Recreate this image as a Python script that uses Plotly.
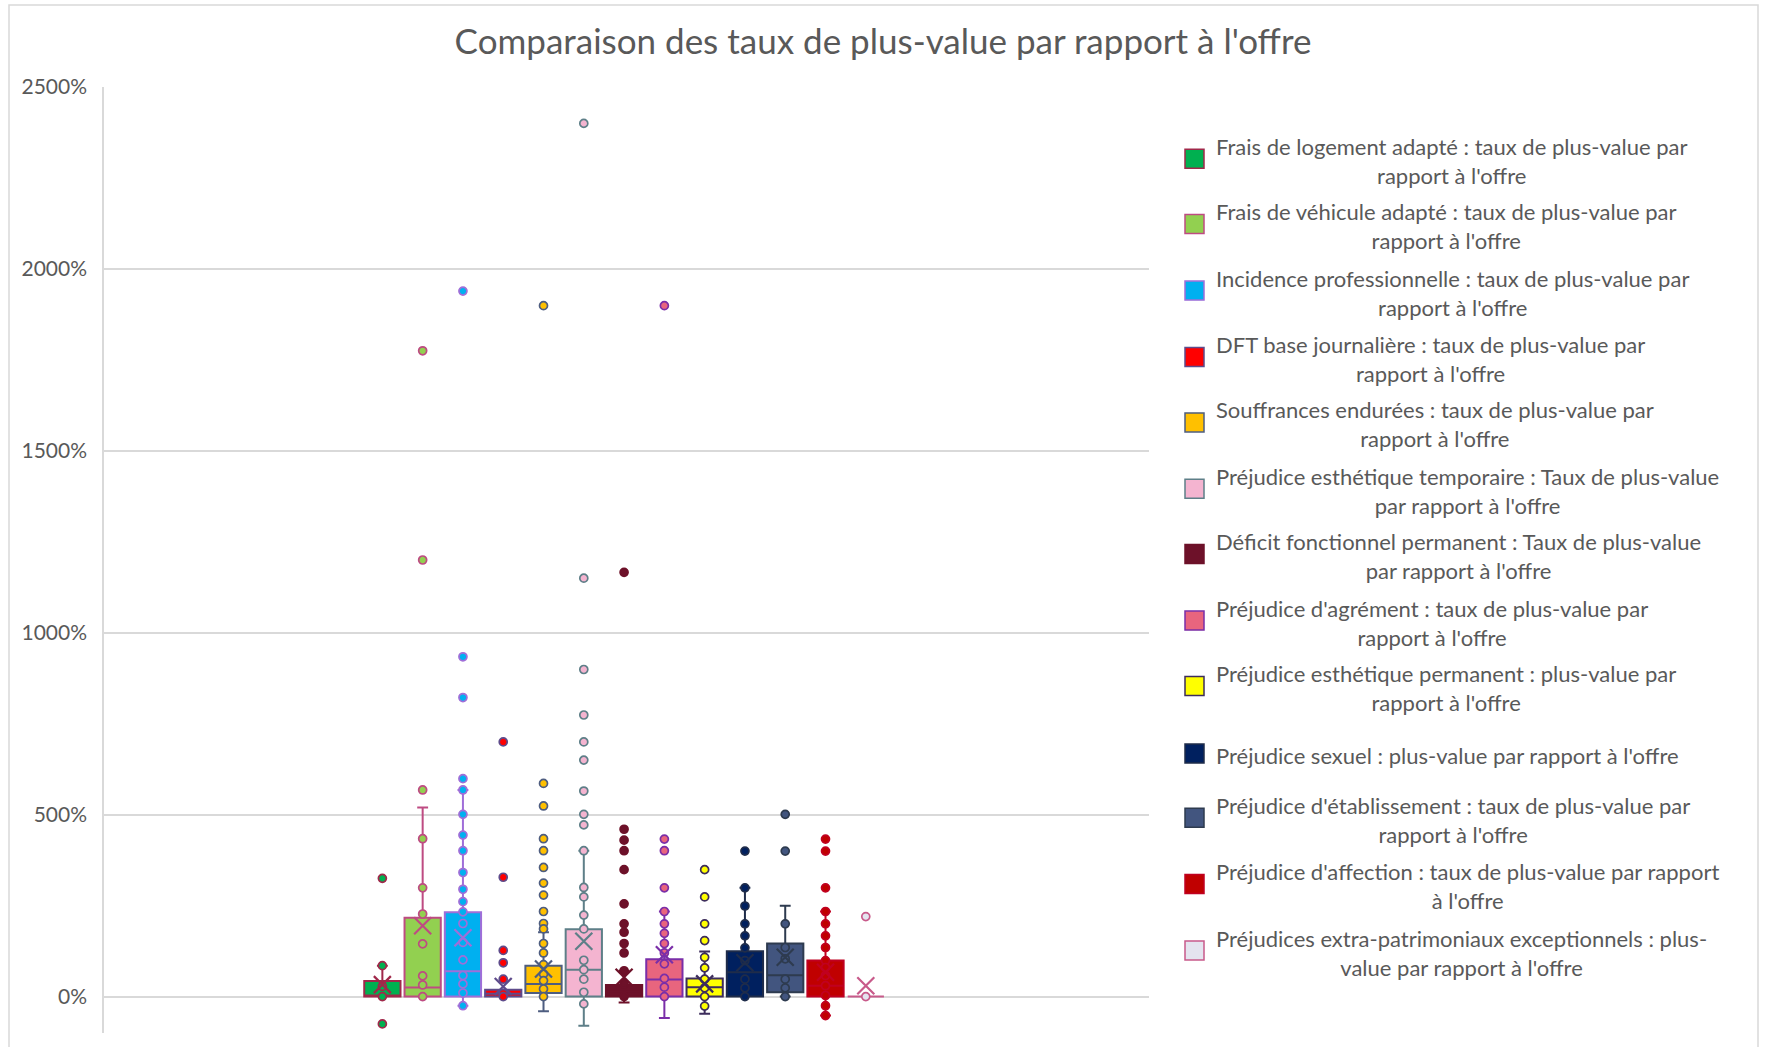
import plotly.graph_objects as go

# ---------------- data (values in %) ----------------
series_names = [
    "Frais de logement adapté : taux de plus-value par rapport à l'offre",
    "Frais de véhicule adapté : taux de plus-value par rapport à l'offre",
    "Incidence professionnelle : taux de plus-value par rapport à l'offre",
    "DFT base journalière : taux de plus-value par rapport à l'offre",
    "Souffrances endurées : taux de plus-value par rapport à l'offre",
    "Préjudice esthétique temporaire : Taux de plus-value par rapport à l'offre",
    "Déficit fonctionnel permanent : Taux de plus-value par rapport à l'offre",
    "Préjudice d'agrément : taux de plus-value par rapport à l'offre",
    "Préjudice esthétique permanent : plus-value par rapport à l'offre",
    "Préjudice sexuel : plus-value par rapport à l'offre",
    "Préjudice d'établissement : taux de plus-value par rapport à l'offre",
    "Préjudice d'affection : taux de plus-value par rapport à l'offre",
    "Préjudices extra-patrimoniaux exceptionnels : plus-value par rapport à l'offre",
]
legend_labels = [
    "Frais de logement adapté : taux de plus-value par<br>rapport à l'offre",
    "Frais de véhicule adapté : taux de plus-value par<br>rapport à l'offre",
    "Incidence professionnelle : taux de plus-value par<br>rapport à l'offre",
    "DFT base journalière : taux de plus-value par<br>rapport à l'offre",
    "Souffrances endurées : taux de plus-value par<br>rapport à l'offre",
    "Préjudice esthétique temporaire : Taux de plus-value<br>par rapport à l'offre",
    "Déficit fonctionnel permanent : Taux de plus-value<br>par rapport à l'offre",
    "Préjudice d'agrément : taux de plus-value par<br>rapport à l'offre",
    "Préjudice esthétique permanent : plus-value par<br>rapport à l'offre",
    "Préjudice sexuel : plus-value par rapport à l'offre",
    "Préjudice d'établissement : taux de plus-value par<br>rapport à l'offre",
    "Préjudice d'affection : taux de plus-value par rapport<br>à l'offre",
    "Préjudices extra-patrimoniaux exceptionnels : plus-<br>value par rapport à l'offre",
]

pts_logement = [325, 85, 28, 0, -75]
pts_vehicule = [1775, 1200, 568, 434, 299, 227, 145, 57, 32, 0]
pts_incidence = [1939, 934, 822, 599, 568, 501, 444, 401, 341, 295, 261, 233, 201, 149, 101, 58, 35, 10, -25]
pts_dft = [700, 328, 127, 93, 48, 9, 0]
pts_souffrances = [1899, 586, 524, 434, 401, 355, 312, 279, 234, 201, 186, 146, 120, 88, 62, 44, 21, 0]
pts_pet = [2400, 1150, 899, 774, 700, 650, 565, 501, 472, 401, 300, 274, 224, 186, 100, 74, 48, 12, -20]
pts_dfp = [1166, 460, 430, 401, 349, 255, 200, 177, 146, 120, 71, 35, 0]
pts_agrement = [1899, 433, 401, 299, 234, 200, 174, 146, 120, 90, 50, 26, 0]
pts_pep = [349, 274, 200, 154, 108, 79, 48, 24, 0, -26]
pts_sexuel = [400, 299, 249, 200, 167, 134, 99, 48, 24, 0]
pts_etablissement = [501, 400, 200, 135, 104, 48, 24, 0]
pts_affection = [433, 400, 299, 234, 200, 167, 135, 99, 80, 58, 30, 3, -25, -52]
pts_exceptionnels = [220, 0]

q1_vals = [0, 0, 0, 0, 10, 0, 0, 0, 0, 0, 12, 0, 0]
median_vals = [0, 25, 70, 8, 35, 74, 14, 47, 26, 67, 59, 30, 0]
q3_vals = [43, 217, 232, 19, 85, 185, 32, 103, 50, 125, 146, 99, 0]
mean_vals = [33, 195, 162, 28, 76, 152, 53, 115, 35, 93, 108, 67, 30]
lower_vals = [0, 0, -25, 0, -40, -80, -16, -59, -47, 0, 0, -52, 0]
upper_vals = [85, 520, 568, 19, 177, 401, 71, 234, 124, 299, 250, 234, 0]

y_ticks = [0, 500, 1000, 1500, 2000, 2500]
y_tick_labels = ["0%", "500%", "1000%", "1500%", "2000%", "2500%"]

# ---------------- styles ----------------
fill_colors = ["#00B050", "#92D050", "#00B0F0", "#FF0000", "#FFC000", "#F4B4D0", "#6D1129",
               "#E8657E", "#FFFF00", "#00205F", "#42557F", "#C00000", "#E4E4EF"]
line_colors = ["#A0284A", "#BE4B82", "#A06ED8", "#5E4B8B", "#4E5D80", "#5E7F88", "#6D1129",
               "#7A2EA8", "#3D2D5C", "#1F2C4A", "#2E3B4F", "#C00020", "#C85A8A"]

all_points = [pts_logement, pts_vehicule, pts_incidence, pts_dft, pts_souffrances, pts_pet, pts_dfp,
              pts_agrement, pts_pep, pts_sexuel, pts_etablissement, pts_affection, pts_exceptionnels]

W, H = 1766, 1047
L, R, T, B = 104, 1149, 87, 1033
FONT = "Lato, 'Open Sans', sans-serif"
TXT = "#595959"


def px(x):
    return (x - L) / (R - L)


def py(y):
    return (B - y) / (B - T)


fig = go.Figure()
for i, name in enumerate(series_names):
    fig.add_trace(go.Box(
        x=[i], q1=[q1_vals[i]], median=[median_vals[i]], q3=[q3_vals[i]],
        lowerfence=[lower_vals[i]], upperfence=[upper_vals[i]],
        width=0.9, whiskerwidth=0.3, boxpoints=False, boxmean=False,
        fillcolor=fill_colors[i], line=dict(color=line_colors[i], width=2),
        name=name, showlegend=False, hoverinfo="skip"))
    pts = all_points[i]
    fig.add_trace(go.Scatter(
        x=[i] * len(pts), y=pts, mode="markers", showlegend=False, hoverinfo="y",
        marker=dict(size=8, color=fill_colors[i], line=dict(color=line_colors[i], width=1.7))))
    fig.add_trace(go.Scatter(
        x=[i], y=[mean_vals[i]], mode="markers", showlegend=False, hoverinfo="y",
        marker=dict(symbol="x-thin-open", size=17, color=line_colors[i],
                    line=dict(color=line_colors[i], width=2.2))))

# custom legend (Excel style centered wrapped text)
legend_y = [158.8, 224.1, 290.6, 357.0, 422.4, 488.8, 554.1, 620.6, 685.9, 753.5, 817.7, 884.1, 950.6]
shapes = []
annotations = []
for i, lab in enumerate(legend_labels):
    yc = legend_y[i]
    shapes.append(dict(type="rect", xref="paper", yref="paper",
                       x0=px(1185), x1=px(1204), y0=py(yc + 9.5), y1=py(yc - 9.5),
                       fillcolor=fill_colors[i], line=dict(color=line_colors[i], width=1.5)))
    annotations.append(dict(text=lab, xref="paper", yref="paper", x=px(1214), y=py(yc + 2),
                            xanchor="left", yanchor="middle", align="center", showarrow=False,
                            font=dict(family=FONT, size=22, color=TXT)))

# chart border
shapes.append(dict(type="rect", xref="paper", yref="paper", x0=px(9), x1=px(1758),
                   y0=py(1052), y1=py(5), line=dict(color="#D9D9D9", width=1.5), layer="below"))

fig.update_layout(
    width=W, height=H,
    margin=dict(l=L, r=W - R, t=T, b=H - B),
    paper_bgcolor="white", plot_bgcolor="white",
    title=dict(text="Comparaison des taux de plus-value par rapport à l'offre",
               x=0.5, xref="container", xanchor="center",
               y=1 - 41.7 / H, yref="container", yanchor="middle",
               font=dict(family=FONT, size=35, color=TXT)),
    xaxis=dict(range=[-6.91, 19.03], showticklabels=False, showgrid=False, zeroline=False,
               showline=False, ticks=""),
    yaxis=dict(range=[-100, 2500], tickmode="array", tickvals=y_ticks, ticktext=y_tick_labels,
               showgrid=True,
               gridcolor="#D9D9D9", gridwidth=1.5, zeroline=True, zerolinecolor="#D9D9D9",
               zerolinewidth=1.5, showline=True, linecolor="#D9D9D9", linewidth=1.5,
               ticks="", ticklabelstandoff=11,
               tickfont=dict(family=FONT, size=21, color=TXT)),
    shapes=shapes, annotations=annotations,
    showlegend=False,
)

fig.write_html("out.html", config={"displayModeBar": False, "displaylogo": False},
               post_script="document.body.style.margin='0';document.body.style.overflow='hidden';")
